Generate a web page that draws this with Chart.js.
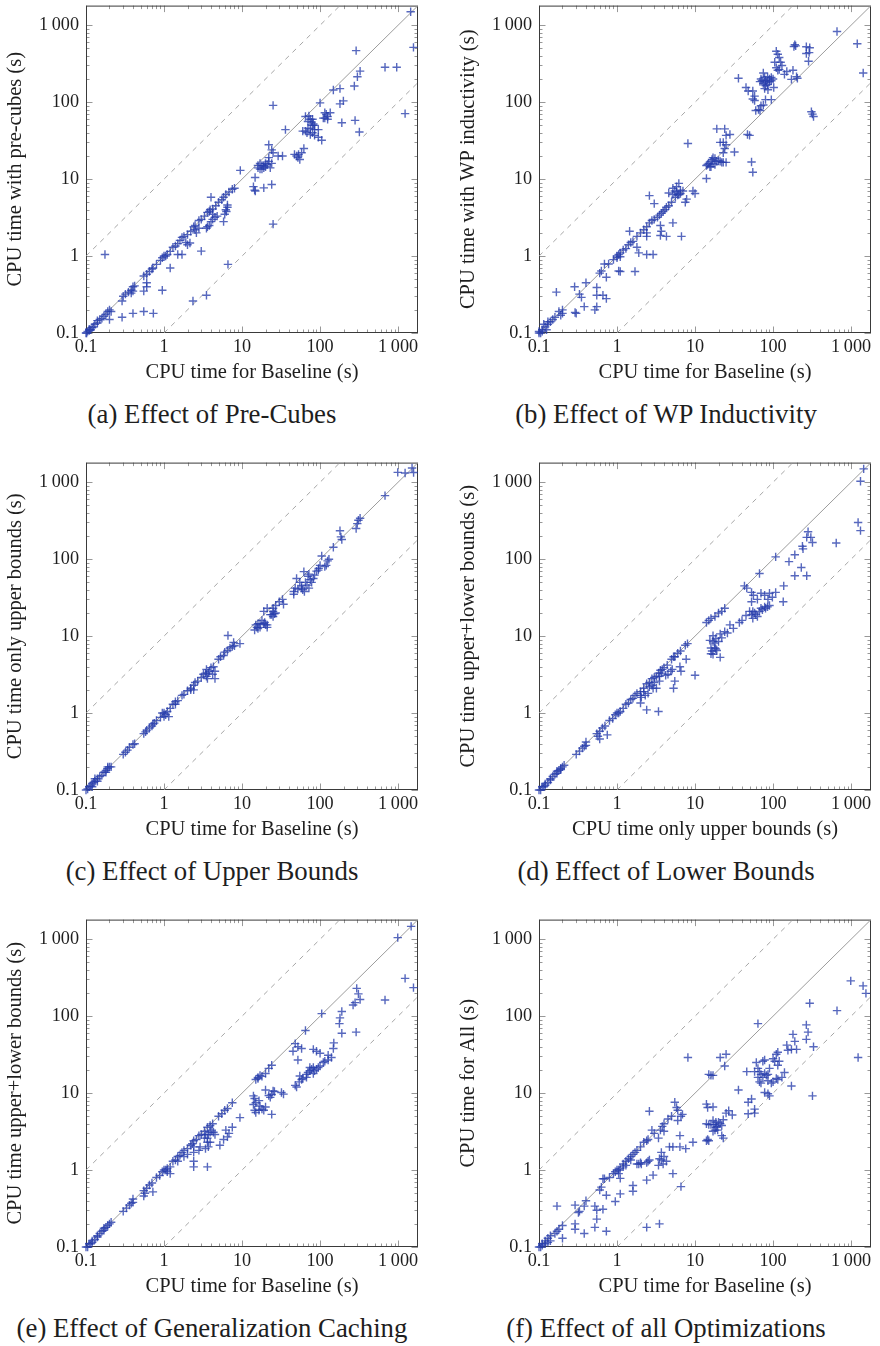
<!DOCTYPE html>
<html>
<head>
<meta charset="utf-8">
<title>CPU time comparisons</title>
<script src="https://cdn.jsdelivr.net/npm/chart.js@4.4.1/dist/chart.umd.min.js"></script>
<style>
  body { margin: 0; background: #fff; }
  #page { position: relative; width: 880px; height: 1346px; overflow: hidden; }
  canvas { position: absolute; }
  .caption {
    position: absolute; height: 30px; line-height: 30px; text-align: center;
    color: #1e1e1e; white-space: nowrap;
  }
</style>
</head>
<body>
<div id="page"></div>
<script>
// axis range and ticks (same for every panel)
const axisMin = 0.1;
const axisMax = 1800;
const tickValues = [0.1, 1, 10, 100, 1000];
const tickLabels = ['0.1', '1', '10', '100', '1\u2009000'];
const minorSteps = [2, 3, 4, 5, 6, 7, 8, 9];

// reference lines: equal time, 10x slower, 10x faster
const diagonal = [[0.1, 0.1], [1800, 1800]];
const tenSlower = [[0.1, 1], [180, 1800]];
const tenFaster = [[1, 0.1], [1800, 180]];

// (a) baseline vs pre-cubes
const preCubes = [
  [0.1,0.1],[0.102,0.1],[0.105,0.105],[0.11,0.108],[0.11,0.112],[0.115,0.11],[0.12,0.118],[0.125,0.12],[0.13,0.13],[0.14,0.135],
  [0.14,0.145],[0.15,0.15],[0.16,0.155],[0.17,0.165],[0.18,0.175],[0.19,0.19],[0.2,0.2],[0.21,0.19],[0.2,0.15],[0.29,0.26],
  [0.3,0.3],[0.32,0.32],[0.35,0.34],[0.38,0.36],[0.4,0.4],[0.42,0.41],[0.55,0.55],[0.6,0.58],[0.65,0.63],[0.7,0.68],
  [0.72,0.7],[0.8,0.78],[0.9,0.88],[0.95,0.95],[1.0,1.0],[1.05,1.0],[1.1,1.05],
  [0.175,1.05],[0.29,0.16],[0.4,0.18],[0.55,0.19],[0.73,0.18],[0.55,0.35],[0.6,0.4],[0.6,0.45],[0.4,0.35],[0.38,0.33],
  [0.95,0.36],[2.35,0.26],[3.5,0.31],[1.2,0.7],[6.6,0.78],
  [1.2,1.15],[1.3,1.3],[1.4,1.35],[1.5,1.45],[1.6,1.6],[1.7,1.75],[1.8,1.8],[2.0,1.9],[2.2,2.1],[2.4,2.4],
  [2.5,2.5],[2.8,2.9],[3.0,3.0],[3.3,3.3],[3.6,3.7],[3.9,4.0],[4.2,4.1],[4.6,4.5],[5.0,5.0],[5.5,5.4],
  [5.8,5.8],[6.2,6.3],[6.8,6.8],[7.5,7.4],[8.0,7.6],
  [1.5,1.05],[1.7,1.05],[1.9,1.5],[2.0,1.4],[2.15,1.48],[2.5,2.2],[2.6,2.0],[2.8,2.3],[3.5,2.3],[3.6,2.4],
  [3.8,2.5],[4.0,2.8],[4.2,3.0],[4.5,3.2],[4.8,3.3],[3.8,3.8],[4.2,3.5],[4.0,5.8],[5.8,2.8],[6.0,3.5],
  [6.3,3.8],[6.5,4.3],[6.5,4.6],[6.2,4.0],[3.0,1.16],
  [9.5,13],[14.7,10.5],[14,8],[14.5,7.2],[14.8,7.0],[19,7.7],[24,8.5],[25,2.6],[16,15],[17,16],
  [18,15],[19,14],[20,14.5],[20,16],[18,13.5],[21,15.5],[22,17],[16,14],[17,13.5],[19,15],
  [24,16],[23,14],[22,19],[22,28],[24,24],[25,22],[29,20],[33,20],[36,44],[25,91],
  [47,21],[50,20],[52,19],[55,18],[53,21],[58,22],[62,25],[65,65],[60,42],[65,42],
  [70,46],[75,45],[80,40],[85,44],[95,44],[70,56],[75,60],[78,55],[80,60],[82,52],
  [85,50],[72,66],[80,50],[75,38],[85,37],[95,35],[105,32],[68,40],
  [100,98],[115,73],[120,70],[115,62],[125,60],[135,73],[180,95],[199,104],[148,144],[180,150],
  [190,54],[281,58],[319,41],[275,162],[301,214],[326,253],[290,468],[680,285],[960,285],[1230,71],
  [1575,515],[1450,1500],[125,65],[110,62]
];

// (b) baseline vs WP inductivity
const wpInductivity = [
  [660,830],[1200,575],[1430,240],
  [190,560],[185,530],[195,540],[267,525],[295,510],[267,430],[290,440],[285,340],
  [110,460],[115,420],[120,380],[105,330],[125,330],[130,300],[110,280],[115,260],[120,265],[140,230],
  [150,250],[180,260],[200,215],[172,198],[205,205],
  [36,205],[45,155],[48,140],[55,140],[58,120],[55,110],[58,105],[60,78],[65,80],[68,78],[70,90],[75,92],
  [68,185],[70,200],[75,175],[78,210],[80,190],[85,170],[90,200],[95,190],[80,165],[85,215],
  [75,240],[90,185],[82,180],[72,190],[100,200],[95,210],[78,150],[86,145],[102,155],[80,108],[95,108],
  [310,75],[330,65],[320,70],
  [19,45],[24,45],[25,37],[28,38],[47,38],[50,37],[32,22.5],[21,30],[23,30],[25,28],
  [24,25],[23,22],[53,16.7],[55,12.3],[8.1,29],
  [14,15],[14.5,15.5],[15,16],[16,17],[16.5,18],[17,19],[18,18.5],[19,17],[20,17.5],[21,17],
  [22,16.5],[23,16.5],[18,15.5],[16,14.5],[17,16],[15.5,14.5],[25,16.5],[14,10.2],[9.4,7],[10,6.5],
  [7.5,5],[7.8,5.5],[6.7,1.8],
  [5.2,7.6],[5.8,8],[6.2,8.8],[6.5,7.2],[5.8,6.8],[5.5,7],[6.2,6.3],[5.2,6.3],[4.6,6.6],[2.6,6.1],
  [3.0,4.8],[5.2,2.7],[3.6,2.5],[3.7,2.1],[4.3,1.8],[3.6,1.85],[2.4,1.8],[2.4,2.0],[1.45,2.1],[2.4,1.05],
  [2.9,1.05],[1.8,1.3],[1.9,1.1],[1.7,0.63],[1.05,0.64],[1.1,0.63],
  [1.0,1.0],[1.05,1.05],[1.1,1.1],[1.2,1.2],[1.3,1.25],[1.4,1.4],[1.5,1.5],[1.6,1.55],[1.8,1.8],[2.0,2.0],
  [2.2,2.2],[2.4,2.4],[2.6,2.7],[2.8,2.9],[3.0,3.0],[3.3,3.2],[3.5,3.4],[3.7,3.6],[3.9,3.8],[4.1,4.0],
  [4.3,4.3],[4.6,4.5],[5.0,5.0],[5.6,5.8],[6.0,6.2],[6.5,6.5],[7.0,7.0],[1.0,0.95],[1.1,0.98],
  [0.167,0.34],[0.286,0.4],[0.33,0.32],[0.35,0.29],[0.4,0.45],[0.38,0.22],[0.52,0.2],[0.55,0.22],[0.55,0.39],[0.55,0.31],
  [0.66,0.31],[0.73,0.28],[0.63,0.64],[0.69,0.79],[0.73,0.53],[0.29,0.185],[0.3,0.18],
  [0.2,0.2],[0.18,0.19],[0.19,0.17],[0.16,0.16],[0.15,0.15],[0.2,0.18],[0.14,0.14],[0.13,0.13],[0.12,0.12],[0.115,0.13],
  [0.11,0.11],[0.1,0.1],[0.105,0.1],[0.11,0.105],[0.125,0.11],[0.13,0.14],[0.1,0.105],[0.78,0.79],[0.6,0.6],[0.9,0.9]
];

// (c) baseline vs only upper bounds
const upperBounds = [
  [990,1345],[1230,1320],[1510,1530],[1580,1340],[680,670],
  [326,340],[310,320],[300,290],[290,250],[180,234],[185,195],[190,180],[148,143],[130,100],[125,95],
  [105,110],[100,83],[96,76],[115,80],[120,83],
  [50,56],[55,50],[58,45],[52,41],[60,40],[63,38],[65,50],[70,60],[72,64],[75,54],
  [82,56],[78,50],[68,46],[72,42],[58,42],[46,38],[48,42],[46,35],[62,69],[85,62],[90,70],[95,72],
  [27,25],[25,23],[30,28],[34,26],[25,21],[24,19],[25,18],[26,19.5],[23,19],[21,23],
  [19,21],[17,14.5],[16,14.5],[15.5,13],[14.5,12],[15,14],[18,16],[19,14.5],[19.5,15],[21,13],
  [17,13],[16,12.5],[21,14],[20,14],[33,30],[27,20],
  [6.6,10.2],[9.4,8],[7.8,8.3],[8,7.5],
  [1,1],[1.05,0.95],[1.1,1.05],[1.15,0.9],[1.2,1.15],[1.3,1.3],[1.4,1.4],[1.5,1.45],[1.4,1.3],[1.7,1.7],
  [1.8,1.75],[2.0,1.95],[2.2,2.1],[2.4,2.3],[2.5,2.5],[2.4,2.0],[2.2,2.0],[2.7,2.6],[3.0,2.9],[3.2,3.2],
  [3.4,3.3],[3.5,3.0],[3.6,2.8],[3.8,3.5],[4.0,3.9],[4.3,4.0],[4.5,2.8],[4.2,3.2],[3.7,3.3],[4.5,3.5],
  [3.5,3.7],[5.0,5.0],[5.3,5.4],[5.8,5.6],[6.0,6.2],[6.5,6.5],[7,7],[7.5,7.3],[0.95,1.0],[1.0,0.9],
  [0.1,0.1],[0.105,0.103],[0.11,0.11],[0.115,0.113],[0.12,0.12],[0.125,0.125],[0.13,0.13],[0.14,0.14],[0.15,0.15],[0.16,0.155],
  [0.17,0.17],[0.18,0.18],[0.19,0.19],[0.2,0.2],[0.21,0.2],[0.3,0.29],[0.32,0.31],[0.34,0.33],[0.36,0.36],[0.4,0.39],
  [0.42,0.4],[0.55,0.54],[0.58,0.57],[0.6,0.6],[0.65,0.64],[0.7,0.68],[0.72,0.72],[0.75,0.74],[0.8,0.8],[0.9,0.88],
  [0.12,0.11],[0.14,0.13],[0.18,0.17],[0.19,0.2],[0.13,0.14]
];

// (d) only upper bounds vs upper+lower bounds
const lowerBounds = [
  [1450,1490],[1320,1030],[1230,300],[1320,235],[645,162],
  [281,227],[270,192],[305,192],[320,165],[238,147],[242,136],[190,114],[160,93],[230,78],[190,61],
  [270,61],[108,107],[137,45],
  [67,65],[43,45],[46,42],[53,37],[56,34],[53,28],[70,36],[63,30],[78,34],[90,36],[86,30],[98,32],[108,37],[135,28],
  [50,21],[53,19],[55,21],[58,20],[60,19],[63,18],[67,21],[70,23],[73,22],[78,24],
  [80,23],[85,24],[90,25],[55,17],[45,18.5],[40,16],[37,15],
  [28,14],[31,12.6],[26,11],[24,11.4],[21,10.7],[22,9.5],[20,8.5],[18.5,9.3],[17,10.1],[18,7],
  [16.5,6.4],[16,5.9],[17,5.8],[18.5,6.8],[19,6.5],[17,8.5],[17.8,8.1],[16,7],[15.5,8.8],[21,5.3],[10,3.1],
  [14,15],[15,16],[16,17],[18,18],[20,20],[22,21],[24,23],
  [7.7,5],[6.6,3.5],[6.4,4.0],[5.3,5.4],[5.1,3.7],[5.5,2.6],[5.3,2.1],[4.9,3.5],[3.5,3.0],[3.7,3.3],
  [2.9,2.1],[2.4,1.1],[3.4,1.05],[2.0,1.35],[2.05,1.6],[2.3,1.7],
  [1,1],[1.05,1.0],[1.1,1.05],[1.2,1.15],[1.3,1.3],[1.4,1.35],[1.5,1.5],[1.6,1.55],[1.7,1.7],[1.8,1.8],
  [2.0,1.9],[2.2,2.1],[2.4,2.4],[2.6,2.5],[2.8,2.8],[3.0,2.9],[3.2,3.0],[3.4,3.3],[3.6,3.6],[3.8,3.7],
  [4.0,3.9],[4.4,4.2],[5.0,5.0],[5.5,5.4],[6.0,6.0],[6.5,6.4],[7.5,7.6],[8,8],[2.0,1.7],[2.2,1.9],
  [2.6,2.2],[2.8,2.3],[3.0,2.5],[3.5,2.6],[4.2,3.1],[4.5,3.2],[2.5,1.8],[3.2,2.1],
  [0.1,0.1],[0.105,0.1],[0.11,0.11],[0.115,0.11],[0.12,0.12],[0.13,0.125],[0.14,0.135],[0.15,0.15],[0.16,0.16],[0.17,0.165],
  [0.18,0.18],[0.19,0.19],[0.2,0.2],[0.21,0.21],[0.3,0.29],[0.33,0.32],[0.36,0.35],[0.38,0.37],[0.4,0.38],[0.4,0.42],
  [0.55,0.54],[0.57,0.5],[0.6,0.58],[0.65,0.64],[0.7,0.68],[0.75,0.52],[0.8,0.8],[0.88,0.85],[0.95,0.95],[0.12,0.115],
  [0.14,0.14],[0.17,0.175],[0.19,0.185],[0.6,0.46]
];

// (e) baseline vs upper+lower bounds (generalization caching)
const genCaching = [
  [1470,1470],[990,1050],[1230,310],[1575,235],[680,162],
  [295,230],[310,195],[326,165],[281,150],[265,140],[290,62],[190,115],[180,95],[177,80],[190,60],
  [105,108],[65,65],
  [48,44],[52,40],[45,35],[52,27],[58,38],[82,37],[90,35],[100,33],[150,45],[148,38],
  [140,29],[127,27],[115,26],[110,25],[127,31],
  [55,16.7],[58,15],[60,15.5],[67,17.5],[70,18.5],[74,19.5],[78,20.5],[82,21.5],[85,19.5],[90,20.5],
  [95,21.5],[74,21.5],[82,18],[67,16],[100,22.5],[48,12.6],[50,12],[54,14],
  [14,9.2],[14.5,8.5],[14,7.1],[14.5,6.0],[15,5.6],[16.5,6],[17,6.8],[18,6.2],[19,6],[20,6.6],
  [24,5.3],[16.5,8],[15,7.5],[20,11],[22,9.3],[24,9.6],[25,10.7],[26,10.5],[32,10.2],[34,9.7],[23,8.8],
  [15,15],[16,16],[17,17],[18,16.5],[20,18],[22,21],[24,23],[16,15.5],
  [9.4,4.8],[7.5,3.6],[6.8,3.0],[6.5,2.7],[6.2,3.3],[5.8,2.5],[5.2,2.1],
  [3.4,2.9],[3.6,2.6],[3.7,2.9],[3.9,3.1],[4.1,3.3],[4.3,3.1],[4.5,2.9],[3.6,2.3],[3.7,2.0],[3.9,2.3],
  [3.3,2.6],[3.4,1.9],[3.6,1.1],[2.4,1.1],[2.4,1.3],[2.4,1.7],[2.4,2.0],[2.3,2.2],[2.9,2.0],[2.8,1.8],
  [1,1],[1.05,1.0],[1.1,1.05],[1.2,1.1],[1.3,1.3],[1.4,1.35],[1.5,1.5],[1.6,1.55],[1.7,1.7],[1.8,1.8],
  [2.0,1.9],[2.2,2.1],[2.4,2.4],[2.6,2.5],[2.8,2.8],[3.0,2.9],[3.3,3.2],[3.6,3.6],[3.9,3.8],[4.2,4.0],
  [5.0,5.0],[5.5,5.4],[6.0,6.0],[6.5,6.3],[7.5,7.5],[1.2,0.9],[1.1,0.95],[1.5,1.3],[1.8,1.5],[2.0,1.6],
  [0.1,0.1],[0.105,0.1],[0.11,0.11],[0.115,0.11],[0.12,0.12],[0.13,0.125],[0.14,0.135],[0.15,0.15],[0.16,0.16],[0.17,0.165],
  [0.18,0.18],[0.19,0.19],[0.2,0.2],[0.21,0.21],[0.3,0.29],[0.33,0.32],[0.36,0.35],[0.38,0.37],[0.4,0.38],[0.4,0.42],
  [0.55,0.54],[0.57,0.5],[0.6,0.58],[0.65,0.64],[0.7,0.68],[0.72,0.52],[0.8,0.8],[0.88,0.85],[0.95,0.95],[0.55,0.46],
  [0.12,0.115],[0.14,0.14],[0.17,0.175]
];

// (f) baseline vs all optimizations
const allOpts = [
  [990,288],[1425,248],[1550,198],[1230,29],[660,118],[295,147],
  [267,77],[281,62],[267,50],[330,40],[320,9.2],
  [180,58],[190,47],[172,37],[200,37],[150,42],[155,36],[172,12.4],[64,80],
  [110,32],[105,26],[115,23],[120,26],[100,28],[115,34],[140,18.5],
  [110,15.5],[115,15],[100,14],[95,13.5],[130,16],
  [61,25],[64,21],[67,19],[70,17.5],[74,16],[78,18],[82,17],[86,17.5],[90,21],[67,14],
  [70,13.5],[78,10.2],[86,9.8],[90,9.2],[86,14.5],[74,26],[78,27],[64,16],[58,19],
  [46,19],[36,11],[48,7.6],[53,8.4],[58,6.2],[58,5.5],[48,5.4],
  [14,7.2],[14.5,6.5],[14,4.0],[15,3.9],[14.5,2.5],[14,2.4],[15,2.4],[16,3.9],[17,4.4],[17.5,3.9],
  [18.5,3.6],[19,3.7],[20,4.2],[21,4.0],[22,3.8],[23,4.5],[22,2.8],[23,2.6],[27,5.9],[30,5.2],
  [25,5.5],[19.5,3.3],[18,3.3],[17,3.2],[18.5,4.2],[17,6.6],
  [15,17.5],[16,17],[17,17],[21,29],[25,32],[24,22.5],[8.1,29],
  [5.5,7.6],[6,6],[5.8,6.5],[6.9,5.3],[6.6,5.0],[6,4.4],[6.4,2.8],[6.4,2.0],[7.6,1.9],[9.4,2.3],[6.6,0.61],
  [2.6,5.8],[2.8,3.3],[3.0,3.0],[3.4,2.6],[3.6,3.3],[4.0,3.2],[3.8,3.7],[4.0,4.0],[4.5,4.6],[5.0,5.0],
  [2.4,2.4],[2.5,2.5],[2.5,1.3],[2.4,1.25],[2.6,1.35],[2.0,1.25],[1.9,1.2],[2.05,1.2],[1.8,1.2],
  [3.5,1.4],[3.7,1.35],[3.9,1.2],[4.0,1.5],[3.4,1.15],[4.3,1.3],[3.7,1.7],[4.7,2.0],[5.2,2.0],
  [5.2,0.9],[2.9,0.86],[2.4,0.74],[1.6,0.63],[1.6,0.53],[1.1,0.49],[0.95,0.39],[1.05,0.9],[1.1,0.78],[1.0,1.0],
  [1.1,1.05],[1.05,1.0],
  [1.2,1.2],[1.3,1.3],[1.4,1.4],[1.5,1.5],[1.6,1.6],[1.7,1.7],[1.8,1.8],[2.0,2.0],[2.2,2.3],[1.5,1.35],
  [1.3,1.15],[1.2,1.1],[0.9,0.9],[0.95,0.95],
  [0.17,0.34],[0.29,0.35],[0.33,0.29],[0.32,0.28],[0.38,0.34],[0.4,0.4],[0.52,0.34],[0.55,0.3],[0.66,0.31],[0.55,0.23],
  [0.52,0.18],[0.73,0.16],[0.29,0.2],[0.29,0.17],[0.38,0.15],[0.2,0.13],[0.2,0.19],[0.6,0.55],[0.63,0.6],[0.69,0.77],
  [0.73,0.47],[0.66,0.77],[2.4,0.18],[3.5,0.2],
  [0.18,0.17],[0.17,0.16],[0.16,0.15],[0.14,0.14],[0.13,0.13],[0.12,0.12],[0.13,0.115],[0.11,0.11],[0.1,0.1],[0.105,0.1],
  [0.11,0.105],[0.12,0.11],[0.14,0.12],[0.8,0.8]
];

const panelData = [preCubes, wpInductivity, upperBounds, lowerBounds, genCaching, allOpts];
const xTitles = [
  'CPU time for Baseline (s)', 'CPU time for Baseline (s)',
  'CPU time for Baseline (s)', 'CPU time only upper bounds (s)',
  'CPU time for Baseline (s)', 'CPU time for Baseline (s)'
];
const yTitles = [
  'CPU time with pre-cubes (s)', 'CPU time with WP inductivity (s)',
  'CPU time only upper bounds (s)', 'CPU time upper+lower bounds (s)',
  'CPU time upper+lower bounds (s)', 'CPU time for All (s)'
];
const captions = [
  '(a) Effect of Pre-Cubes', '(b) Effect of WP Inductivity',
  '(c) Effect of Upper Bounds', '(d) Effect of Lower Bounds',
  '(e) Effect of Generalization Caching', '(f) Effect of all Optimizations'
];

// pick an installed serif face, then size text so widths match the figure
const measureCtx = document.createElement('canvas').getContext('2d');
function hasFont(name) {
  const sample = 'CPU time for Baseline (s) 0123456789';
  return ['monospace', 'sans-serif'].some(fb => {
    measureCtx.font = '40px ' + fb;
    const w0 = measureCtx.measureText(sample).width;
    measureCtx.font = '40px "' + name + '", ' + fb;
    return measureCtx.measureText(sample).width !== w0;
  });
}
const serifName = ['Liberation Serif', 'DejaVu Serif', 'Noto Serif', 'FreeSerif', 'Times New Roman']
  .find(hasFont);
const serif = serifName ? '"' + serifName + '", serif' : 'serif';
function sizeFor(text, width) {
  measureCtx.font = '100px ' + serif;
  return Math.round(1000 * width / measureCtx.measureText(text).width) / 10;
}
const tickSize = sizeFor('1\u2009000', 40);
const titleSize = sizeFor('CPU time for Baseline (s)', 213);
const captionSize = sizeFor('(a) Effect of Pre-Cubes', 249);

const toPoints = arr => arr.map(([x, y]) => ({ x, y }));

// box around the plot area with inward major/minor ticks on all four sides
const framePlugin = {
  id: 'frame',
  beforeDatasetsDraw(chart) {
    const { ctx, chartArea: a, scales: { x, y } } = chart;
    ctx.save();
    ctx.strokeStyle = '#8c8c8c';
    ctx.lineWidth = 0.9;
    ctx.beginPath();
    tickValues.forEach(d => {
      [1, ...minorSteps].forEach(m => {
        const v = d * m;
        if (v > axisMax) return;
        const len = m === 1 ? 6.5 : 3.5;
        const px = Math.round(x.getPixelForValue(v)) + 0.5;
        const py = Math.round(y.getPixelForValue(v)) + 0.5;
        ctx.moveTo(px, a.bottom); ctx.lineTo(px, a.bottom - len);
        ctx.moveTo(px, a.top); ctx.lineTo(px, a.top + len);
        ctx.moveTo(a.left, py); ctx.lineTo(a.left + len, py);
        ctx.moveTo(a.right, py); ctx.lineTo(a.right - len, py);
      });
    });
    ctx.stroke();
    ctx.strokeStyle = '#3a3a3a';
    ctx.lineWidth = 1;
    ctx.strokeRect(a.left + 0.5, a.top + 0.5, a.width - 1, a.height - 1);
    ctx.restore();
  }
};

function logAxis(title, isX) {
  return {
    type: 'logarithmic',
    min: axisMin,
    max: axisMax,
    afterBuildTicks: s => { s.ticks = tickValues.map(v => ({ value: v })); },
    afterFit: s => {
      if (isX) s.height = 57; else s.width = 86;
      s.paddingLeft = s.paddingRight = s.paddingTop = s.paddingBottom = 0;
    },
    ticks: {
      autoSkip: false,
      maxRotation: 0,
      padding: isX ? 3 : 7,
      color: '#1e1e1e',
      font: { family: serif, size: tickSize },
      callback: (v, i) => tickLabels[i]
    },
    grid: { display: false, drawTicks: false },
    border: { display: false },
    title: {
      display: true,
      text: title,
      color: '#1e1e1e',
      font: { family: serif, size: titleSize },
      padding: isX ? { top: 0, bottom: 5 } : { top: 3, bottom: 0 }
    }
  };
}

function refLine(points, dashed) {
  return {
    data: toPoints(points),
    showLine: true,
    borderColor: '#9c9c9c',
    borderWidth: dashed ? 0.9 : 1,
    borderDash: dashed ? [5, 5] : [],
    pointRadius: 0,
    fill: false
  };
}

const page = document.getElementById('page');

panelData.forEach((pts, i) => {
  const col = i % 2, row = Math.floor(i / 2);
  const canvas = document.createElement('canvas');
  canvas.width = 427;
  canvas.height = 390;
  canvas.style.width = '427px';
  canvas.style.height = '390px';
  canvas.style.left = (col * 453) + 'px';
  canvas.style.top = (row * 457) + 'px';
  page.appendChild(canvas);

  new Chart(canvas.getContext('2d'), {
    type: 'scatter',
    data: {
      datasets: [
        {
          data: toPoints(pts),
          pointStyle: 'cross',
          pointRadius: 4.2,
          borderWidth: 1.4,
          borderColor: 'rgba(40, 62, 172, 0.78)',
          backgroundColor: 'rgba(40, 62, 172, 0.78)',
          clip: false
        },
        refLine(diagonal, false),
        refLine(tenSlower, true),
        refLine(tenFaster, true)
      ]
    },
    options: {
      responsive: false,
      animation: false,
      events: [],
      layout: { padding: { left: 0, right: 9, top: 2, bottom: 0 } },
      plugins: { legend: { display: false }, tooltip: { enabled: false } },
      scales: { x: logAxis(xTitles[i], true), y: logAxis(yTitles[i], false) }
    },
    plugins: [framePlugin]
  });

  const cap = document.createElement('div');
  cap.className = 'caption';
  cap.textContent = captions[i];
  cap.style.fontFamily = serif;
  cap.style.fontSize = captionSize + 'px';
  cap.style.left = (col * 454) + 'px';
  cap.style.width = '424px';
  cap.style.top = (row * 457 + 399) + 'px';
  page.appendChild(cap);
});
</script>
</body>
</html>
